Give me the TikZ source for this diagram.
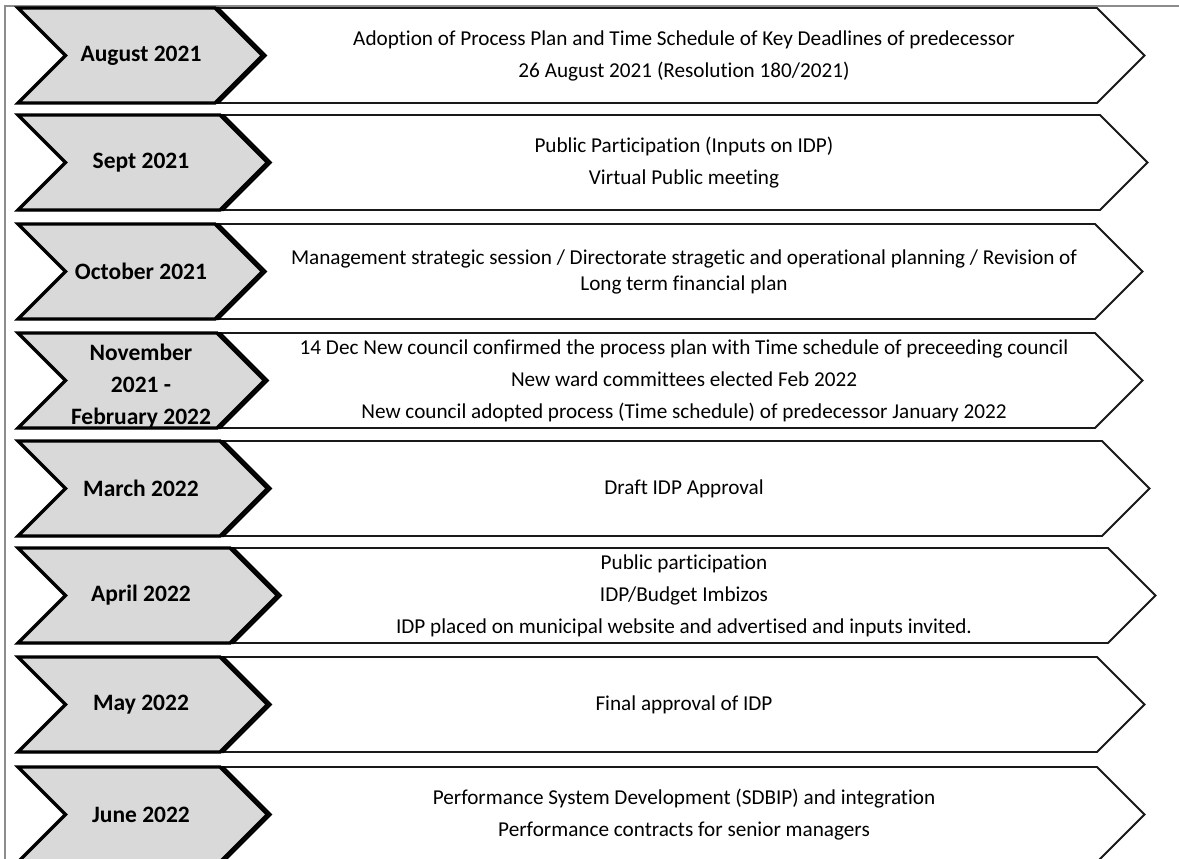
\documentclass[tikz,border=0pt]{standalone}
\usepackage{fontspec}
\setmainfont{Carlito}[Ligatures=CommonOff]
\definecolor{chevgray}{HTML}{D9D9D9}
\definecolor{framegray}{HTML}{8C8C8C}
\tikzset{
  chevbox/.style={fill=chevgray, draw=black, line width=3.2pt, line join=miter},
  chevshadow/.style={draw=black, line width=2pt, line join=miter},
  arrowbox/.style={fill=white, draw=black!90, line width=1.8pt, line join=miter},
  framebox/.style={draw=framegray, line width=2.2pt},
  monthlbl/.style={font=\fontsize{23.5}{32}\selectfont\bfseries, align=center, inner sep=0pt},
  desclbl/.style={font=\fontsize{21.2}{32}\selectfont, align=center, inner sep=0pt},
  wraplbl/.style={font=\fontsize{21.2}{26}\selectfont, align=center, inner sep=0pt},
}
\begin{document}
\begin{tikzpicture}[x=1pt,y=-1pt]
\useasboundingbox (0,0) rectangle (1179,859);
\clip (0,0) rectangle (1179,859);
\fill[white] (0,0) rectangle (1179,859);
\draw[framebox] (5,900) -- (5,6) -- (1200,6);
\foreach \t/\c/\a/\n in {8/215/1097/r1, 115/220/1100/r2, 224/215/1095/r3, 333/217/1095/r4, 441/220/1102/r5, 548/230/1108/r6, 657/220/1097/r7, 767/220/1097/r8}{
  \path[arrowbox] (200,\t) -- (\a,\t) -- ({\a+47.5},{\t+47.5}) -- (\a,{\t+95}) -- (200,{\t+95}) -- cycle;
  \path[chevshadow, shift={(3.5,0)}] (18,\t) -- (\c,\t) -- ({\c+47.5},{\t+47.5}) -- (\c,{\t+95}) -- (18,{\t+95}) -- (65.5,{\t+47.5}) -- cycle;
  \path[chevbox] (18,\t) -- (\c,\t) -- ({\c+47.5},{\t+47.5}) -- (\c,{\t+95}) -- (18,{\t+95}) -- (65.5,{\t+47.5}) -- cycle;
  \coordinate (\n) at (141,{\t+47.5});
  \coordinate (\n d) at (684,{\t+47.5});
}
\node[monthlbl] (m1) at (r1) {August 2021};
\node[monthlbl] (m2) at (r2) {Sept 2021};
\node[monthlbl] (m3) at (r3) {October 2021};
\node[monthlbl] (m4) at (141,386) {November\\2021 -\\February 2022};
\node[monthlbl] (m5) at (r5) {March 2022};
\node[monthlbl] (m6) at (r6) {April 2022};
\node[monthlbl] (m7) at (r7) {May 2022};
\node[monthlbl] (m8) at (r8) {June 2022};

\node[desclbl] (d1) at (r1d) {Adoption of Process Plan and Time Schedule of Key Deadlines of predecessor\\26 August 2021 (Resolution 180/2021)};
\node[desclbl] (d2) at (r2d) {Public Participation (Inputs on IDP)\\Virtual Public meeting};
\node[wraplbl] (d3) at (r3d) {Management strategic session / Directorate stragetic and operational planning / Revision of\\Long term financial plan};
\node[desclbl] (d4) at (r4d) {14 Dec New council confirmed the process plan with Time schedule of preceeding council\\New ward committees elected Feb 2022\\New council adopted process (Time schedule) of predecessor January 2022};
\node[desclbl] (d5) at (r5d) {Draft IDP Approval};
\node[desclbl] (d6) at (r6d) {Public participation\\IDP/Budget Imbizos\\IDP placed on municipal website and advertised and inputs invited.};
\node[desclbl] (d7) at (r7d) {Final approval of IDP};
\node[desclbl] (d8) at (r8d) {Performance System Development (SDBIP) and integration\\Performance contracts for senior managers};
\end{tikzpicture}
\end{document}
